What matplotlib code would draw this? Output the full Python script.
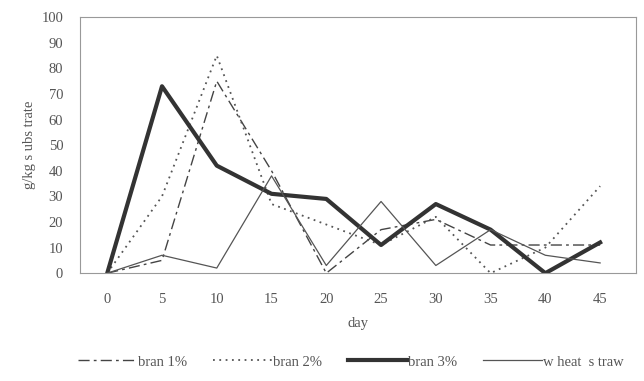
import matplotlib
matplotlib.use("Agg")
import matplotlib.pyplot as plt

days = [0, 5, 10, 15, 20, 25, 30, 35, 40, 45]
bran1 = [0, 5, 75, 40, 0, 17, 21, 11, 11, 11]
bran2 = [0, 30, 85, 27, 19, 11, 22, 0, 10, 34]
bran3 = [0, 73, 42, 31, 29, 11, 27, 17, 0, 12]
wheat = [0, 7, 2, 38, 3, 28, 3, 17, 7, 4]
yticks = list(range(0, 101, 10))

plt.rcParams['font.family'] = ['Liberation Serif', 'DejaVu Serif']

fig = plt.figure(figsize=(6.44, 3.81), dpi=100)
ax = fig.add_axes([0.124, 0.283, 0.864, 0.672])

ax.plot(days, bran1, color='#444444', lw=1.0, dashes=[8, 3, 2, 3], label='bran 1%')
ax.plot(days, bran2, color='#555555', lw=1.3, linestyle=(0, (1, 2.5)), label='bran 2%')
ax.plot(days, bran3, color='#333333', lw=3.0, label='bran 3%')
ax.plot(days, wheat, color='#555555', lw=0.9, label='w heat  s traw')

ax.set_xlim(-2.5, 48.3)
ax.set_ylim(0, 100)
ax.set_xticks(days)
ax.set_yticks(yticks)
ax.tick_params(length=0, labelsize=10.5, colors='#555555')
ax.tick_params(axis='x', pad=14)
ax.tick_params(axis='y', pad=12)
for s in ax.spines.values():
    s.set_color('#999999')
    s.set_linewidth(0.8)

ax.set_xlabel('day', fontsize=10.5, color='#555555', labelpad=8)
ax.set_ylabel('g/kg s ubs trate', fontsize=10.5, color='#555555', labelpad=4)

fig.legend(loc='center', bbox_to_anchor=(0.545, 0.05), ncol=4, frameon=False,
           fontsize=10.5, handlelength=4.0, handletextpad=0.1, columnspacing=1.8,
           labelcolor='#555555')

fig.savefig('out.png', dpi=100)
